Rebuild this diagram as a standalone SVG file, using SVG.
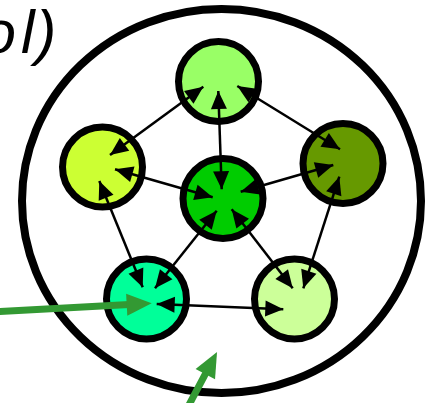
<svg xmlns="http://www.w3.org/2000/svg" width="427" height="403" viewBox="0 0 427 403">
<style>
.node{stroke:#000;stroke-width:7}
.edge{stroke:#000;stroke-width:2.5;fill:none;marker-start:url(#ah);marker-end:url(#ah)}
.green{stroke:#339933;stroke-width:7;fill:none;marker-end:url(#gh)}
.lbl{font-family:"Liberation Sans",Arial,sans-serif;font-style:italic;font-size:61px;fill:#000}
</style>
<defs>
<marker id="ah" markerUnits="userSpaceOnUse" markerWidth="18" markerHeight="16" refX="18" refY="8" orient="auto-start-reverse" overflow="visible">
<path d="M0,0 L18,8 L0,16 z" fill="#000"/>
</marker>
<marker id="gh" markerUnits="userSpaceOnUse" markerWidth="25" markerHeight="22" refX="7" refY="11" orient="auto" overflow="visible">
<path d="M0,0 L25,11 L0,22 z" fill="#339933"/>
</marker>
</defs>
<text class="lbl" x="-18 21 36" y="53">ol)</text>
<ellipse id="boundary" cx="221.5" cy="201" rx="199.5" ry="192" fill="none" stroke="#000" stroke-width="8"/>
<g id="node-top"><circle class="node" cx="218.5" cy="81.5" r="40" fill="#99FF66"/></g>
<g id="node-left"><circle class="node" cx="102.5" cy="167" r="40" fill="#CCFF33"/></g>
<g id="node-right"><circle class="node" cx="343" cy="163.5" r="40" fill="#669900"/></g>
<g id="node-center"><circle class="node" cx="223" cy="198.5" r="40" fill="#00CC00"/></g>
<g id="node-bottom-left"><circle class="node" cx="146.5" cy="299" r="40" fill="#00FF99"/></g>
<g id="node-bottom-right"><circle class="node" cx="294.5" cy="299" r="40" fill="#CCFF99"/></g>
<g id="connectors">
<line class="edge" x1="203.3" y1="86.7" x2="110" y2="155"/>
<line class="edge" x1="218.3" y1="91" x2="221.7" y2="189.3"/>
<line class="edge" x1="237.3" y1="86" x2="340" y2="149.3"/>
<line class="edge" x1="115" y1="169.3" x2="212.7" y2="197.3"/>
<line class="edge" x1="99.3" y1="181" x2="142.7" y2="287.3"/>
<line class="edge" x1="333.3" y1="165" x2="240.7" y2="191.7"/>
<line class="edge" x1="339.3" y1="176.7" x2="303.3" y2="288.3"/>
<line class="edge" x1="216.7" y1="210.7" x2="155" y2="288.3"/>
<line class="edge" x1="231.7" y1="209.3" x2="292.7" y2="288.3"/>
<line class="edge" x1="156.7" y1="304" x2="283.3" y2="309.3"/>
<line class="green" x1="-5" y1="311.8" x2="133.7" y2="304.3"/>
<line class="green" x1="184.2" y1="413.9" x2="208.6" y2="367.9"/>
</g>
</svg>
